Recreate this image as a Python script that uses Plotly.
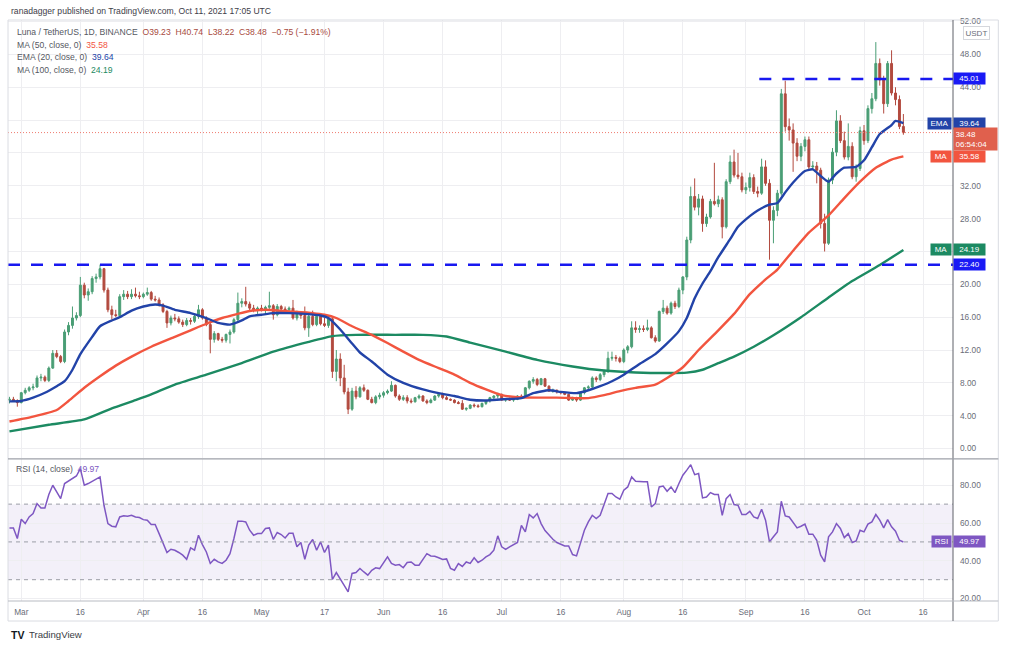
import pandas as pd
import plotly.graph_objects as go

FONT = "Liberation Sans"
UP = "#4A9E75"
DOWN = "#B24A3F"
EMA_C = "#2243A8"
MA50_C = "#F2553F"
MA100_C = "#1C8A62"
RSI_C = "#7E57C2"
LEVEL_C = "#1818F0"
GRID = "#EEEEF1"
TXT = "#6A6D78"

# ---------------- data (daily candles from 2021-02-26 to 2021-10-11) ----------------
START = "2021-02-26"
opens = [
    5.9, 6.0, 5.8, 5.6, 6.8, 7.1, 7.4, 7.5, 8.6, 8.7,
    8.3, 9.8, 11.6, 11.2, 10.6, 14.2, 15.0, 15.9, 16.2, 19.9,
    18.7, 19.1, 20.7, 20.9, 21.9, 19.3, 16.9, 16.3, 16.2, 18.5,
    18.8, 18.5, 18.8, 18.6, 18.5, 18.8, 19.0, 18.2, 18.1, 17.5,
    16.7, 15.3, 15.9, 15.8, 15.4, 15.1, 15.6, 15.5, 16.1, 16.9,
    15.9, 15.1, 13.3, 14.0, 13.3, 13.2, 13.9, 14.2, 15.7, 17.7,
    17.9, 17.6, 17.1, 16.9, 17.1, 17.0, 17.2, 17.4, 16.3, 17.3,
    17.0, 16.9, 17.1, 15.9, 16.4, 16.2, 14.7, 16.1, 15.1, 16.1,
    15.2, 15.0, 15.8, 9.4, 10.9, 8.6, 6.9, 4.8, 7.0, 6.3,
    7.4, 7.1, 6.0, 5.6, 6.3, 6.5, 6.8, 7.0, 7.7, 6.4,
    6.0, 6.2, 5.8, 5.7, 6.2, 6.4, 5.8, 5.6, 5.9, 6.4,
    6.6, 6.2, 6.0, 5.9, 5.6, 5.5, 4.8, 4.9, 5.3, 5.2,
    5.1, 5.5, 5.8, 6.2, 6.4, 6.6, 5.9, 6.0, 5.9, 6.0,
    6.4, 6.3, 7.4, 8.2, 8.4, 7.8, 8.5, 7.6, 7.0, 7.1,
    6.9, 6.8, 6.6, 5.9, 6.1, 5.9, 6.8, 7.4, 7.5, 8.6,
    8.4, 9.0, 9.4, 11.0, 11.1, 11.0, 10.6, 12.0, 12.4, 14.7,
    14.5, 14.6, 14.5, 14.7, 13.5, 13.1, 16.7, 17.1, 16.5, 17.7,
    17.3, 19.3, 20.9, 25.4, 30.7, 29.4, 30.4, 27.4, 28.2, 30.1,
    29.8, 30.3, 27.0, 32.5, 34.9, 33.3, 33.1, 31.5, 31.8, 33.0,
    31.3, 31.1, 34.3, 32.3, 27.8, 29.0, 31.1, 43.2, 39.2, 38.8,
    37.2, 35.6, 36.8, 37.6, 34.3, 34.4, 33.9, 27.4, 25.0, 32.7,
    36.1, 39.9, 37.5, 35.5, 36.8, 33.1, 34.1, 38.7, 37.5, 41.4,
    42.6, 46.9, 44.9, 42.0, 46.9, 43.3, 42.5, 39.23,
]
highs = [
    6.3, 6.3, 6.0, 6.9, 7.4, 7.6, 7.9, 8.9, 9.1, 8.9,
    10.0, 12.0, 12.0, 11.4, 14.5, 15.4, 17.3, 16.6, 20.9, 20.2,
    19.5, 21.0, 21.3, 22.4, 22.0, 19.6, 17.4, 16.9, 18.8, 19.3,
    19.2, 19.4, 19.6, 19.1, 19.0, 19.6, 19.2, 18.6, 18.4, 17.7,
    16.9, 16.2, 16.4, 16.1, 15.7, 15.9, 15.9, 16.3, 17.5, 17.1,
    16.1, 15.3, 14.3, 14.1, 13.6, 14.0, 14.5, 15.9, 19.0, 18.3,
    19.7, 17.9, 17.5, 17.3, 17.5, 17.4, 19.1, 17.6, 17.6, 17.5,
    17.3, 17.3, 18.1, 16.8, 16.6, 17.3, 16.3, 16.8, 16.3, 16.5,
    15.9, 16.0, 16.1, 12.0, 11.6, 10.2, 7.4, 7.4, 7.6, 7.6,
    7.8, 7.2, 6.3, 6.5, 6.8, 7.0, 7.2, 8.2, 7.8, 6.6,
    6.5, 6.5, 6.1, 6.3, 6.6, 6.5, 6.0, 6.1, 6.5, 6.8,
    6.8, 6.4, 6.1, 6.0, 5.8, 5.9, 5.0, 5.4, 5.5, 5.4,
    5.6, 5.9, 6.3, 6.5, 6.8, 6.7, 6.1, 6.2, 6.1, 6.5,
    6.6, 7.5, 8.3, 8.7, 8.6, 8.6, 8.6, 7.7, 7.3, 7.2,
    7.0, 6.9, 6.7, 6.3, 6.3, 6.9, 7.5, 7.7, 8.8, 8.8,
    9.2, 9.6, 11.8, 11.8, 11.4, 11.2, 12.2, 12.6, 15.5, 15.5,
    15.0, 15.0, 15.7, 14.9, 13.8, 16.8, 18.1, 17.4, 17.9, 18.0,
    19.6, 21.0, 25.8, 31.9, 32.9, 31.0, 30.8, 28.6, 30.4, 34.8,
    30.8, 30.6, 32.8, 35.7, 36.4, 36.0, 33.6, 32.4, 33.6, 33.4,
    31.9, 35.3, 35.1, 32.8, 29.5, 31.5, 43.8, 44.8, 40.2, 39.6,
    37.8, 37.2, 38.0, 38.0, 35.0, 34.9, 34.2, 28.6, 33.0, 36.6,
    41.2, 40.6, 38.6, 39.6, 37.3, 34.6, 39.2, 39.4, 41.8, 43.3,
    49.5, 47.5, 45.4, 47.2, 48.5, 44.0, 43.0, 40.74,
]
lows = [
    5.5, 5.7, 5.1, 5.5, 6.6, 6.9, 7.1, 7.4, 8.2, 8.1,
    8.1, 9.7, 11.0, 10.4, 10.4, 13.8, 14.6, 15.6, 16.0, 18.3,
    18.0, 18.8, 20.2, 20.6, 19.0, 16.6, 15.7, 16.0, 16.1, 18.1,
    18.2, 18.2, 18.4, 18.2, 18.3, 18.6, 18.0, 17.9, 17.3, 16.5,
    14.7, 15.0, 15.5, 15.2, 14.8, 14.9, 15.1, 15.3, 15.8, 15.7,
    14.9, 11.6, 12.9, 13.1, 12.9, 12.9, 12.8, 14.0, 15.5, 17.2,
    17.3, 16.8, 16.6, 16.4, 16.7, 16.4, 17.0, 15.7, 16.1, 16.7,
    16.6, 16.5, 15.7, 15.6, 15.8, 14.4, 13.6, 14.9, 14.9, 15.0,
    14.8, 14.7, 8.6, 8.2, 7.6, 6.6, 4.2, 4.6, 6.0, 6.2,
    6.9, 5.9, 5.5, 5.4, 6.0, 6.2, 6.6, 6.9, 6.2, 5.8,
    5.8, 5.5, 5.5, 5.6, 6.0, 5.7, 5.4, 5.5, 5.8, 6.2,
    6.0, 5.9, 5.8, 5.5, 5.4, 4.7, 4.6, 4.8, 5.0, 5.0,
    5.0, 5.3, 5.6, 5.9, 6.1, 5.8, 5.7, 5.8, 5.7, 5.9,
    6.1, 6.2, 7.2, 7.9, 7.6, 7.7, 7.5, 6.9, 6.8, 6.7,
    6.6, 6.5, 5.8, 5.8, 5.7, 5.8, 6.6, 7.1, 7.3, 8.1,
    8.2, 8.7, 9.2, 10.7, 10.6, 10.4, 10.4, 11.6, 12.2, 14.1,
    14.1, 14.2, 14.3, 13.4, 12.9, 13.0, 16.4, 16.3, 16.3, 17.0,
    17.1, 18.8, 20.5, 25.0, 29.0, 28.4, 26.4, 27.0, 28.0, 29.6,
    29.4, 25.6, 26.8, 32.2, 33.0, 32.8, 31.2, 31.0, 31.3, 31.0,
    30.6, 30.9, 32.0, 23.0, 25.0, 28.3, 30.8, 38.6, 37.5, 33.7,
    35.0, 35.0, 36.2, 34.0, 33.9, 32.3, 26.8, 24.0, 24.8, 32.2,
    35.6, 37.2, 35.2, 35.1, 32.8, 32.5, 33.8, 37.0, 37.2, 40.8,
    42.3, 44.2, 40.8, 41.6, 43.0, 41.8, 38.9, 38.22,
]
closes = [
    6.0, 5.8, 5.6, 6.8, 7.1, 7.4, 7.5, 8.6, 8.7, 8.3,
    9.8, 11.6, 11.2, 10.6, 14.2, 15.0, 15.9, 16.2, 19.9, 18.7,
    19.1, 20.7, 20.9, 21.9, 19.3, 16.9, 16.3, 16.2, 18.5, 18.8,
    18.5, 18.8, 18.6, 18.5, 18.8, 19.0, 18.2, 18.1, 17.5, 16.7,
    15.3, 15.9, 15.8, 15.4, 15.1, 15.6, 15.5, 16.1, 16.9, 15.9,
    15.1, 13.3, 14.0, 13.3, 13.2, 13.9, 14.2, 15.7, 17.7, 17.9,
    17.6, 17.1, 16.9, 17.1, 17.0, 17.2, 17.4, 16.3, 17.3, 17.0,
    16.9, 17.1, 15.9, 16.4, 16.2, 14.7, 16.1, 15.1, 16.1, 15.2,
    15.0, 15.8, 9.4, 10.9, 8.6, 6.9, 4.8, 7.0, 6.3, 7.4,
    7.1, 6.0, 5.6, 6.3, 6.5, 6.8, 7.0, 7.7, 6.4, 6.0,
    6.2, 5.8, 5.7, 6.2, 6.4, 5.8, 5.6, 5.9, 6.4, 6.6,
    6.2, 6.0, 5.9, 5.6, 5.5, 4.8, 4.9, 5.3, 5.2, 5.1,
    5.5, 5.8, 6.2, 6.4, 6.6, 5.9, 6.0, 5.9, 6.0, 6.4,
    6.3, 7.4, 8.2, 8.4, 7.8, 8.5, 7.6, 7.0, 7.1, 6.9,
    6.8, 6.6, 5.9, 6.1, 5.9, 6.8, 7.4, 7.5, 8.6, 8.4,
    9.0, 9.4, 11.0, 11.1, 11.0, 10.6, 12.0, 12.4, 14.7, 14.5,
    14.6, 14.5, 14.7, 13.5, 13.1, 16.7, 17.1, 16.5, 17.7, 17.3,
    19.3, 20.9, 25.4, 30.7, 29.4, 30.4, 27.4, 28.2, 30.1, 29.8,
    30.3, 27.0, 32.5, 34.9, 33.3, 33.1, 31.5, 31.8, 33.0, 31.3,
    31.1, 34.3, 32.3, 27.8, 29.0, 31.1, 43.2, 39.2, 38.8, 37.2,
    35.6, 36.8, 37.6, 34.3, 34.4, 33.9, 27.4, 25.0, 32.7, 36.1,
    39.9, 37.5, 35.5, 36.8, 33.1, 34.1, 38.7, 37.5, 41.4, 42.6,
    46.9, 44.9, 42.0, 46.9, 43.3, 42.5, 39.23, 38.48,
]
rsi14 = [
    57.4, 57.4, 51.8, 62.0, 59.7, 63.2, 65.0, 70.3, 68.0, 68.0,
    75.1, 80.0, 76.5, 72.9, 80.9, 82.1, 83.5, 84.9, 88.8, 80.0,
    80.9, 82.1, 83.2, 84.4, 69.4, 59.7, 58.3, 58.0, 63.2, 63.8,
    63.6, 64.1, 63.2, 62.9, 61.8, 61.5, 59.2, 59.2, 54.4, 49.1,
    44.4, 46.1, 45.6, 44.4, 43.0, 40.8, 46.8, 45.6, 53.5, 48.6,
    44.7, 38.6, 40.8, 39.4, 38.6, 40.3, 43.8, 51.8, 61.0, 61.0,
    60.6, 56.2, 53.5, 54.4, 54.4, 57.1, 57.4, 51.4, 55.0, 53.9,
    52.1, 54.6, 54.6, 47.4, 49.7, 40.8, 48.3, 51.3, 45.6, 50.0,
    44.4, 48.3, 30.1, 33.8, 30.1, 27.0, 23.6, 33.3, 33.8, 35.9,
    34.1, 32.4, 35.0, 36.3, 35.9, 39.1, 42.1, 38.6, 37.7, 38.0,
    36.3, 39.1, 39.4, 37.7, 37.7, 40.8, 43.8, 42.6, 42.4, 41.6,
    40.7, 41.0, 36.0, 35.0, 38.5, 37.0, 39.4, 38.6, 41.6, 39.1,
    40.3, 42.1, 43.3, 45.6, 53.2, 47.4, 46.0, 47.4, 48.6, 49.7,
    58.8, 55.3, 64.5, 62.7, 65.0, 59.7, 56.0, 53.5, 51.4, 49.7,
    48.6, 47.9, 47.9, 43.3, 42.6, 49.7, 56.2, 60.6, 64.1, 62.4,
    64.1, 69.8, 75.6, 75.6, 73.8, 72.6, 77.4, 79.1, 84.4, 82.1,
    81.8, 81.8, 81.8, 68.5, 70.3, 79.1, 79.6, 76.8, 79.1, 76.1,
    80.9, 85.3, 88.0, 90.9, 85.6, 86.2, 73.3, 73.8, 76.1, 75.1,
    75.1, 64.1, 72.9, 75.1, 69.8, 69.4, 64.5, 64.5, 66.2, 63.2,
    62.4, 67.3, 61.5, 50.0, 52.7, 55.3, 71.5, 63.8, 63.2, 60.6,
    57.4, 58.3, 59.4, 54.1, 54.1, 50.9, 43.0, 39.4, 52.7, 55.3,
    59.7, 57.1, 52.3, 54.4, 49.7, 50.5, 56.2, 55.3, 59.4, 60.6,
    64.5, 61.5, 57.4, 61.8, 58.0, 55.7, 50.9, 49.97,
]

# moving averages (day offsets counted from 2021-03-01)
ema20_days = [-3, 0, 3, 6, 9, 11, 13, 15, 18, 20, 23, 25, 28, 31, 34, 36, 39, 43, 47, 50,
              53, 56, 58, 61, 64, 68, 72, 76, 78, 81, 84, 86, 89, 93, 97, 102, 106, 110, 114, 118,
              122, 127, 130, 134, 137, 141, 144, 147, 150, 153, 157, 161, 164, 167, 169, 171, 173, 175, 177, 180,
              182, 185, 187, 190, 192, 194, 196, 199, 201, 203, 205, 207, 209, 212, 214, 216, 218, 221, 222, 224]
ema20_vals = [5.75, 5.8, 6.2, 6.8, 7.6, 8.2, 9.6, 11.5, 13.6, 14.9, 15.6, 16.0, 16.8, 17.3, 17.55, 17.4, 16.9, 16.5, 15.9, 15.3,
              15.1, 15.6, 16.1, 16.3, 16.5, 16.5, 16.4, 16.2, 15.9, 14.5, 12.8, 11.7, 10.6, 9.0, 8.0, 7.2, 6.75, 6.4, 5.95, 5.85,
              6.0, 6.15, 6.75, 7.1, 6.9, 6.75, 7.1, 7.6, 8.2, 9.0, 10.3, 11.5, 12.8, 14.3, 15.9, 18.3, 20.1, 21.6, 23.3, 25.5,
              27.0, 28.3, 29.0, 29.7, 29.9, 31.2, 32.4, 33.8, 34.0, 33.2, 32.5, 33.5, 34.2, 34.3, 35.1, 36.7, 38.3, 39.4, 39.9, 39.64]
ma50_days = [-3, 3, 9, 12, 16, 20, 24, 28, 33, 39, 43, 47, 51, 55, 58, 62, 68, 74, 77, 80,
             84, 89, 93, 97, 101, 106, 110, 114, 118, 122, 126, 131, 136, 140, 144, 148, 152, 156, 161, 164,
             168, 172, 177, 181, 185, 189, 192, 196, 200, 205, 209, 213, 217, 221, 224]
ma50_vals = [3.3, 3.9, 4.7, 5.8, 7.4, 8.8, 10.1, 11.2, 12.4, 13.6, 14.4, 15.2, 15.9, 16.4, 16.75, 16.9, 16.7, 16.5, 16.3, 15.9,
             14.9, 13.85, 12.85, 11.8, 10.8, 9.8, 9.0, 8.0, 7.2, 6.5, 6.25, 6.2, 6.2, 6.15, 6.15, 6.5, 7.0, 7.4, 7.8, 8.6,
             9.9, 12.0, 14.4, 16.4, 18.8, 20.6, 21.8, 24.1, 26.3, 28.4, 30.5, 32.5, 34.2, 35.2, 35.58]
ma100_days = [-3, 7, 16, 23, 29, 33, 39, 47, 56, 64, 73, 79, 85, 95, 102, 108, 114, 123, 131, 140,
              148, 156, 164, 169, 173, 177, 181, 186, 191, 198, 205, 211, 218, 224]
ma100_vals = [2.1, 2.9, 3.55, 4.9, 5.9, 6.6, 7.8, 9.0, 10.4, 11.8, 13.0, 13.7, 13.85, 13.85, 13.85, 13.65, 12.9, 11.8, 10.8, 10.0,
              9.5, 9.27, 9.2, 9.25, 9.6, 10.4, 11.2, 12.4, 13.8, 16.0, 18.4, 20.4, 22.35, 24.19]

# horizontal levels drawn on the chart
level_low = 22.40
level_high = 45.01
level_high_start = "2021-09-04 10:00"
last_close = 38.48

tick_dates = ["2021-03-01", "2021-03-16", "2021-04-01", "2021-04-16", "2021-05-01", "2021-05-17",
              "2021-06-01", "2021-06-16", "2021-07-01", "2021-07-16", "2021-08-01", "2021-08-16",
              "2021-09-01", "2021-09-16", "2021-10-01", "2021-10-16"]
tick_text = ["Mar", "16", "Apr", "16", "May", "17", "Jun", "16", "Jul", "16", "Aug", "16", "Sep", "16", "Oct", "16"]

# price-axis ticks; labels hidden behind the value badges are left blank (grid line kept)
price_ticks = [0, 4, 8, 12, 16, 20, 24, 28, 32, 36, 40, 44, 48, 52]
price_tick_text = ["0.00", "4.00", "8.00", "12.00", "16.00", "20.00", "", "28.00", "32.00", "", "", "44.00", "48.00", "52.00"]
rsi_ticks = [20, 40, 60, 80]
rsi_tick_text = ["20.00", "40.00", "60.00", "80.00"]

# ---------------- figure ----------------
dates = pd.date_range(START, periods=len(closes), freq="D")
BASE = pd.Timestamp("2021-03-01")


def dd(d):
    return BASE + pd.Timedelta(days=d)


X0, X1 = dd(-3.37), dd(236.6)

# plot-area pixel box (for placing texts / frame)
PL, PR, PT, PB = 8.0, 952.7, 20.0, 600.7
W, H = 1009, 647


def pxx(px):
    return (px - PL) / (PR - PL)


def pxy(py):
    return (PB - py) / (PB - PT)


fig = go.Figure()
fig.add_trace(go.Candlestick(
    x=dates, open=opens, high=highs, low=lows, close=closes,
    increasing=dict(line=dict(color=UP, width=1), fillcolor=UP),
    decreasing=dict(line=dict(color=DOWN, width=1), fillcolor=DOWN),
    whiskerwidth=0, xaxis="x", yaxis="y", showlegend=False, hoverinfo="skip"))

for days, vals, col in [(ma100_days, ma100_vals, MA100_C),
                        (ma50_days, ma50_vals, MA50_C),
                        (ema20_days, ema20_vals, EMA_C)]:
    fig.add_trace(go.Scatter(
        x=[dd(d) for d in days], y=vals, mode="lines",
        line=dict(color=col, width=2.4, shape="spline", smoothing=0.5),
        xaxis="x", yaxis="y", showlegend=False, hoverinfo="skip"))

fig.add_trace(go.Scatter(
    x=dates, y=rsi14, mode="lines", line=dict(color=RSI_C, width=1.5),
    xaxis="x2", yaxis="y2", showlegend=False, hoverinfo="skip"))

shapes = []
# RSI band and levels
shapes.append(dict(type="rect", xref="x2 domain", yref="y2", x0=0, x1=1, y0=30, y1=70,
                   fillcolor="rgba(126,87,194,0.09)", line=dict(width=0), layer="below"))
for lv in (70, 50, 30):
    shapes.append(dict(type="line", xref="x2 domain", yref="y2", x0=0, x1=1, y0=lv, y1=lv,
                       line=dict(color="#9A9DA6", width=1, dash="4px,4px"), layer="above"))
# last price dotted line
shapes.append(dict(type="line", xref="x", yref="y", x0=X0, x1=X1, y0=last_close, y1=last_close,
                   line=dict(color="#EF7B6F", width=1, dash="1px,2px"), layer="above"))
# horizontal dashed levels
shapes.append(dict(type="line", xref="x", yref="y", x0=X0, x1=X1, y0=level_low, y1=level_low,
                   line=dict(color=LEVEL_C, width=2.5, dash="12px,11px"), layer="above"))
shapes.append(dict(type="line", xref="x", yref="y", x0=level_high_start, x1=X1, y0=level_high, y1=level_high,
                   line=dict(color=LEVEL_C, width=2.5, dash="12px,11px"), layer="above"))
# frame / separators
FR_R = pxx(998)
FR_B = pxy(620.7)
shapes.append(dict(type="rect", xref="paper", yref="paper", x0=0, x1=FR_R, y0=FR_B, y1=1,
                   line=dict(color="#DADCE2", width=1), layer="above"))
shapes.append(dict(type="line", xref="paper", yref="paper", x0=1, x1=1, y0=FR_B, y1=1,
                   line=dict(color="#5E6169", width=1), layer="above"))
shapes.append(dict(type="line", xref="paper", yref="paper", x0=0, x1=FR_R, y0=pxy(458.7), y1=pxy(458.7),
                   line=dict(color="#9EA1A9", width=1.2), layer="above"))
shapes.append(dict(type="line", xref="paper", yref="paper", x0=0, x1=FR_R, y0=0, y1=0,
                   line=dict(color="#B8BBC2", width=1), layer="above"))

ann = []


def text_at(px, py, txt, size=8.5, color="#4A4D56", anchor="left", bold=False):
    ann.append(dict(x=pxx(px), y=pxy(py), xref="paper", yref="paper", xanchor=anchor, yanchor="middle",
                    text=("<b>%s</b>" % txt) if bold else txt, showarrow=False,
                    font=dict(family=FONT, size=size, color=color)))


text_at(8.5, 10.7, "ranadagger published on TradingView.com, Oct 11, 2021 17:05 UTC", size=8.6, color="#3E4049")
text_at(15, 32.3, "Luna / TetherUS, 1D, BINANCE&nbsp;&nbsp;<span style='color:#A84B40'>O39.23&nbsp;&nbsp;H40.74&nbsp;&nbsp;L38.22&nbsp;&nbsp;C38.48&nbsp;&nbsp;−0.75 (−1.91%)</span>",
        size=8.6, color="#55585F")
text_at(15, 44.5, "MA (50, close, 0)&nbsp;&nbsp;<span style='color:%s'>35.58</span>" % MA50_C, size=8.6, color="#55585F")
text_at(15, 57.0, "EMA (20, close, 0)&nbsp;&nbsp;<span style='color:%s'>39.64</span>" % EMA_C, size=8.6, color="#55585F")
text_at(15, 69.8, "MA (100, close, 0)&nbsp;&nbsp;<span style='color:%s'>24.19</span>" % MA100_C, size=8.6, color="#55585F")
text_at(14, 468.3, "RSI (14, close)&nbsp;&nbsp;<span style='color:%s'>49.97</span>" % RSI_C, size=8.6, color="#55585F")
text_at(8.5, 634.3, "TV", size=10.5, color="#131722", bold=True)
text_at(27, 634.3, "TradingView", size=9.6, color="#3A3D45")


def value_badge(y, yref, txt, col, w=29):
    ann.append(dict(x=1, xref="paper", y=y, yref=yref, xanchor="left", yanchor="middle",
                    text=txt, showarrow=False, font=dict(family=FONT, size=8, color="white"),
                    bgcolor=col, width=w, height=9, borderpad=1, align="center"))


def label_badge(y, yref, txt, col, w):
    ann.append(dict(x=1, xref="paper", y=y, yref=yref, xanchor="right", yanchor="middle", xshift=-1,
                    text=txt, showarrow=False, font=dict(family=FONT, size=8, color="white"),
                    bgcolor=col, width=w, height=9, borderpad=1, align="center"))


value_badge(level_high, "y", "45.01", "#1A1AF5")
value_badge(level_low, "y", "22.40", "#1A1AF5")
value_badge(39.64, "y", "39.64", EMA_C)
label_badge(39.64, "y", "EMA", EMA_C, 21)
value_badge(35.58, "y", "35.58", MA50_C)
label_badge(35.58, "y", "MA", MA50_C, 18)
value_badge(24.19, "y", "24.19", MA100_C)
label_badge(24.19, "y", "MA", MA100_C, 18)
value_badge(49.97, "y2", "49.97", RSI_C)
label_badge(49.97, "y2", "RSI", RSI_C, 17)
ann.append(dict(x=1, xref="paper", y=last_close, yref="y", xanchor="left", yanchor="top", yshift=6,
                text="38.48<br>06:54:04", showarrow=False, font=dict(family=FONT, size=8, color="white"),
                bgcolor="#E0604D", width=40, borderpad=1.5, align="left"))
ann.append(dict(x=1, xref="paper", y=1, yref="paper", xanchor="left", yanchor="top", xshift=10, yshift=-6,
                text="USDT", showarrow=False, font=dict(family=FONT, size=8, color="#6A6D78"),
                bordercolor="#D5D7DC", borderwidth=1, borderpad=1.5, bgcolor="white"))

axis_font = dict(family=FONT, size=8.3, color=TXT)
fig.update_layout(
    template="none", width=W, height=H,
    margin=dict(l=PL, r=W - PR, t=PT, b=H - PB, pad=0),
    paper_bgcolor="white", plot_bgcolor="white", showlegend=False,
    font=dict(family=FONT, size=8.5, color=TXT),
    xaxis=dict(domain=[0, 1], anchor="y", type="date", range=[X0, X1],
               tickvals=tick_dates, ticktext=tick_text, showticklabels=False,
               showgrid=True, gridcolor=GRID, gridwidth=1, zeroline=False, showline=False,
               ticks="", rangeslider=dict(visible=False)),
    xaxis2=dict(domain=[0, 1], anchor="y2", type="date", range=[X0, X1], matches="x",
                tickvals=tick_dates, ticktext=tick_text, showticklabels=True, tickfont=axis_font,
                ticklabelstandoff=5,
                showgrid=True, gridcolor=GRID, gridwidth=1, zeroline=False, showline=False, ticks=""),
    yaxis=dict(domain=[0.246, 1], anchor="x", side="right", range=[-1.157, 52.19],
               tickvals=price_ticks, ticktext=price_tick_text, tickfont=axis_font, ticklabelstandoff=6,
               showgrid=True, gridcolor=GRID, gridwidth=1, zeroline=False, showline=False, ticks=""),
    yaxis2=dict(domain=[0, 0.244], anchor="x2", side="right", range=[18.72, 93.77],
                tickvals=rsi_ticks, ticktext=rsi_tick_text, tickfont=axis_font, ticklabelstandoff=6,
                showgrid=True, gridcolor=GRID, gridwidth=1, zeroline=False, showline=False, ticks=""),
    shapes=shapes, annotations=ann,
)

fig.write_html("out.html", config={"displayModeBar": False},
               post_script="document.body.style.margin='0';document.body.style.overflow='hidden';")
